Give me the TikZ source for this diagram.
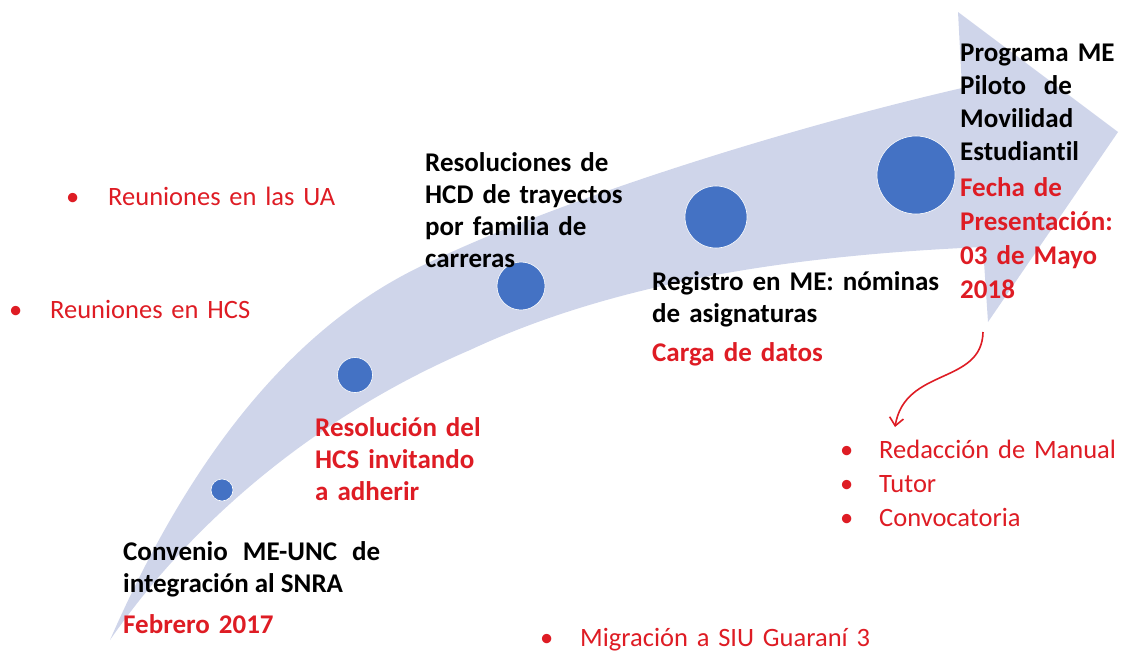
\documentclass[tikz,border=0pt]{standalone}
\usepackage{fontspec}
\setmainfont{Carlito}[Ligatures=NoCommon]
\usetikzlibrary{arrows.meta}
\definecolor{bandblue}{RGB}{207,213,234}
\definecolor{dotblue}{RGB}{68,114,196}
\definecolor{datered}{RGB}{222,28,36}

\begin{document}
\begin{tikzpicture}[x=1pt, y=-1pt,
    dot/.style={circle, fill=dotblue, draw=white, line width=0.6pt, inner sep=0pt},
    stage/.style={anchor=base west, inner sep=0pt, align=left, text width=#1,
        font=\fontsize{27}{32}\selectfont\bfseries},
    topic/.style={anchor=base west, inner sep=0pt, align=left, text width=#1, text=datered,
        font=\fontsize{26.5}{34}\selectfont}]
    \useasboundingbox (0,0) rectangle (1121,653);
	\fill[bandblue] (110,640) .. controls (180,480) and (280,330) .. (430,262)
	    .. controls (560,200) and (780,130) .. (962,88)
	    -- (958,12) -- (1118,132) -- (988,322) -- (983,247)
	    .. controls (800,255) and (620,280) .. (470,350)
	    .. controls (330,410) and (200,510) .. cycle;
	\node[dot, minimum size=22pt] (convdot) at (222,490) {};
	\node[dot, minimum size=35pt] (hcsdot) at (355,375) {};
	\node[dot, minimum size=48pt] (hcddot) at (521,286) {};
	\node[dot, minimum size=62pt] (regdot) at (716,217) {};
	\node[dot, minimum size=78pt] (progdot) at (916,175) {};

	\node[stage=257pt, align=justify] (conv) at (123,560) {Convenio ME-UNC de\linebreak integración al SNRA};
	\node[stage=200pt, text=datered] (febrero) at (123,633) {Febrero 2017};
	\node[stage=200pt, text=datered] (hcs) at (315,436) {Resolución del\\ HCS invitando\\ a adherir};
	\node[stage=220pt] (hcd) at (425,171) {Resoluciones de\\ HCD de trayectos\\ por familia de\\ carreras};
	\node[stage=300pt] (reg) at (652,290) {Registro en ME: nóminas\\ de asignaturas};
	\node[stage=300pt, text=datered] (carga) at (652,361) {Carga de datos};
	\node[stage=160pt, font=\fontsize{27}{33}\selectfont\bfseries] (prog) at (960,61) {Programa ME\\ Piloto\ \ de\\ Movilidad\\ Estudiantil};
	\node[stage=160pt, font=\fontsize{27}{34}\selectfont\bfseries, text=datered] (fecha) at (960,196) {Fecha de\\ Presentación:\\ 03 de Mayo\\ 2018};

	\node[topic=300pt] (ua) at (66,205) {\makebox[42pt][l]{•}Reuniones en las UA};
	\node[topic=300pt] (hcsmeet) at (9,318) {\makebox[41pt][l]{•}Reuniones en HCS};
	\node[topic=340pt] (siu) at (540,646) {\makebox[40pt][l]{•}Migración a SIU Guaraní 3};
	\node[topic=290pt] (tasks) at (840,458) {\makebox[39pt][l]{•}Redacción de Manual\\ \makebox[39pt][l]{•}Tutor\\ \makebox[39pt][l]{•}Convocatoria};

	\coordinate (foot) at (983,332);
	\coordinate (tasksin) at (895,427);
	\draw[datered, line width=1.6pt, -{Straight Barb[length=8pt, width=14pt]}] (foot) .. controls +(-1,53) and +(10,-60) .. (tasksin);
\end{tikzpicture}
\end{document}
